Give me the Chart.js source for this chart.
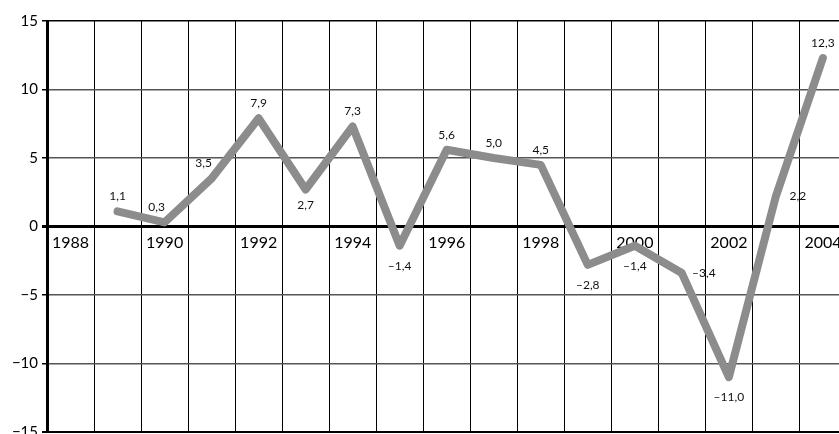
<!DOCTYPE html>
<html><head><meta charset="utf-8">
<script src="https://cdn.jsdelivr.net/npm/chart.js@4/dist/chart.umd.min.js"></script>
<style>
html,body{margin:0;padding:0;overflow:hidden;background:#fff;width:839px;height:434px}
#wrap{position:absolute;left:0;top:0;width:867px;height:445px}
</style></head><body>
<div id="wrap"><canvas id="c"></canvas></div>
<script>
const years = ['1988','1989','1990','1991','1992','1993','1994','1995','1996','1997','1998','1999','2000','2001','2002','2003','2004'];
const values = [null, 1.1, 0.3, 3.5, 7.9, 2.7, 7.3, -1.4, 5.6, 5.0, 4.5, -2.8, -1.4, -3.4, -11.0, 2.2, 12.3];
const labelPlacement = ['', 'above','aboveLeft','aboveLeft','above','belowNear','above','below','above','above','above','below','below','right','below','right','above'];
const yTicks = [-15, -10, -5, 0, 5, 10, 15];

const FONT = 'Lato';
const fmt = v => v.toFixed(1).replace('.', ',').replace('-', '\u2013');

const offsets = {
  above: [0, -15], aboveLeft: [-8, -15], below: [0, 20], belowNear: [0, 16], right: [22, 0]
};

const labelPlugin = {
  id: 'valueLabels',
  afterDatasetsDraw(chart) {
    const meta = chart.getDatasetMeta(0);
    const ctx = chart.ctx;
    ctx.save();
    ctx.font = '12px ' + FONT;
    ctx.fillStyle = '#111';
    ctx.textAlign = 'center';
    ctx.textBaseline = 'middle';
    meta.data.forEach((pt, i) => {
      const v = values[i];
      if (v === null || v === undefined) return;
      const o = offsets[labelPlacement[i]] || [0, -15];
      ctx.fillText(fmt(v), pt.x + o[0], pt.y + o[1]);
    });
    ctx.restore();
  }
};

new Chart(document.getElementById('c'), {
  type: 'line',
  data: {
    labels: years,
    datasets: [{
      data: values,
      borderColor: '#8c8c8c',
      borderWidth: 8,
      borderCapStyle: 'round',
      borderJoinStyle: 'round',
      pointRadius: 0,
      tension: 0,
      spanGaps: false
    }]
  },
  options: {
    responsive: true,
    maintainAspectRatio: false,
    animation: false,
    layout: { padding: { top: 21, right: 0, bottom: 0, left: 0 } },
    plugins: { legend: { display: false }, tooltip: { enabled: false } },
    scales: {
      x: {
        type: 'category',
        position: { y: 0 },
        offset: true,
        grid: { offset: true, color: '#000', lineWidth: 1, drawTicks: false },
        border: { display: true, color: '#000', width: 3 },
        ticks: {
          autoSkip: false,
          maxRotation: 0,
          align: 'start',
          labelOffset: -18.5,
          padding: 7,
          color: '#000',
          font: { family: FONT, size: 16 },
          callback: function(val, idx) { const y = parseInt(years[idx]); return y % 2 === 0 ? years[idx] : ''; }
        }
      },
      y: {
        min: -15, max: 15,
        afterFit(scale) { scale.width = 47; },
        afterBuildTicks(scale) { scale.ticks = yTicks.map(v => ({ value: v })); },
        grid: {
          color: ctx => {
            const v = ctx.tick && ctx.tick.value;
            if (v === 0 || v === 15 || v === -15) return '#000';
            return '#555';
          },
          lineWidth: ctx => {
            const v = ctx.tick && ctx.tick.value;
            if (v === 0) return 3;
            if (v === -15) return 2;
            return 1.5;
          },
          tickColor: '#000',
          tickLength: 5
        },
        border: { display: true, color: '#000', width: 3 },
        ticks: {
          padding: 4,
          color: '#000',
          font: { family: FONT, size: 15 },
          callback: v => String(v).replace('-', '\u2212')
        }
      }
    }
  },
  plugins: [labelPlugin]
});
</script>
</body></html>
